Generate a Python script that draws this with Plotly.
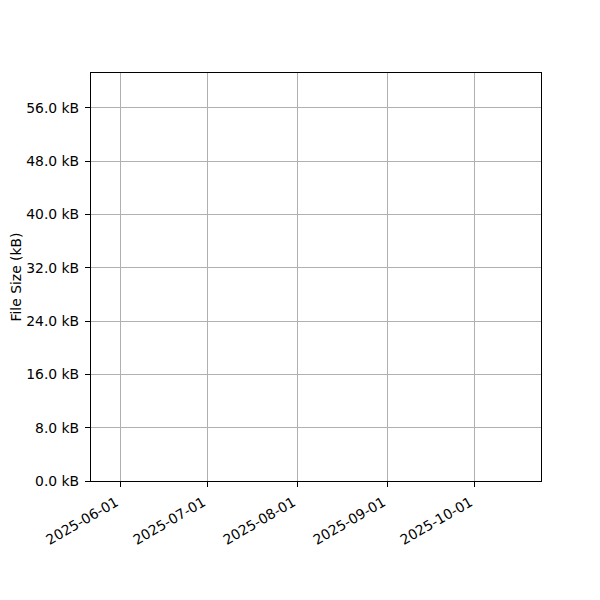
import plotly.graph_objects as go

# Data (the reference chart contains no plotted series)
dates = []
sizes_kb = []

x_tick_vals = ["2025-06-01", "2025-07-01", "2025-08-01", "2025-09-01", "2025-10-01"]
x_tick_text = ["2025-06-01", "2025-07-01", "2025-08-01", "2025-09-01", "2025-10-01"]
y_tick_vals = [0, 8, 16, 24, 32, 40, 48, 56]
y_tick_text = ["0.0 kB", "8.0 kB", "16.0 kB", "24.0 kB", "32.0 kB", "40.0 kB", "48.0 kB", "56.0 kB"]

fig = go.Figure()
fig.add_trace(go.Scatter(x=dates, y=sizes_kb, mode="lines", showlegend=False))

font = dict(family="DejaVu Sans", size=13.9, color="black")

fig.update_layout(
    width=600, height=600,
    margin=dict(l=83, r=67, t=65, b=127, pad=0),
    paper_bgcolor="white", plot_bgcolor="white",
    font=font,
    showlegend=False,
)
fig.update_xaxes(
    type="date",
    range=["2025-05-22", "2025-10-24"],
    tickvals=x_tick_vals, ticktext=x_tick_text,
    tickangle=-30,
    showgrid=True, gridcolor="#b0b0b0", gridwidth=1,
    showline=True, linecolor="black", linewidth=1.1, mirror=True,
    ticks="outside", ticklen=5, tickcolor="black", tickwidth=1,
    zeroline=False,
    tickfont=font,
    ticklabelstandoff=2,
    ticklabelshift=-4,
    automargin=False,
)
fig.update_yaxes(
    range=[0, 61.25],
    tickvals=y_tick_vals, ticktext=y_tick_text,
    showgrid=True, gridcolor="#b0b0b0", gridwidth=1,
    showline=True, linecolor="black", linewidth=1.1, mirror=True,
    ticks="outside", ticklen=5, tickcolor="black", tickwidth=1,
    zeroline=False,
    title=dict(text="File Size (kB)", font=font, standoff=10),
    tickfont=font,
    ticklabelstandoff=3,
    automargin=False,
)

fig.write_html("out.html")
